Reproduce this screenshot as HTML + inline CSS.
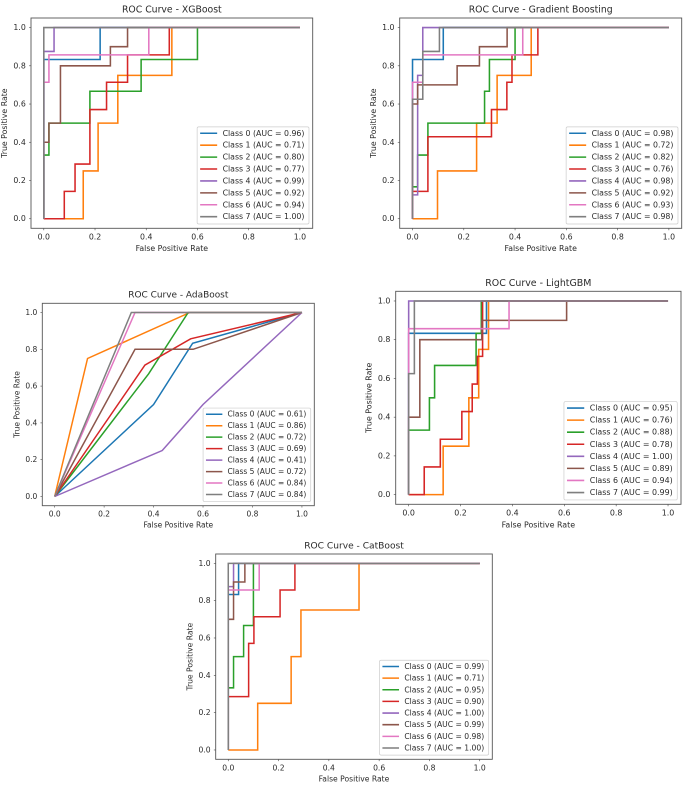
<!DOCTYPE html>
<html lang="en">
<head>
<meta charset="utf-8">
<title>ROC Curves</title>
<style>
html,body{margin:0;padding:0;background:#fff;width:685px;height:786px;overflow:hidden}
svg{display:block}
text{font-family:"DejaVu Sans","Liberation Sans",sans-serif;fill:#2a2a2a}
</style>
</head>
<body>
<svg id="figure" width="685" height="786" viewBox="0 0 685 786" xmlns="http://www.w3.org/2000/svg">
  <defs><filter id="soft" x="-2%" y="-2%" width="104%" height="104%"><feGaussianBlur stdDeviation="0.32"/></filter></defs>
  <rect width="685" height="786" fill="#fff"/>
  <g id="root" filter="url(#soft)"></g>
</svg>
<script>
const tickLabels = ["0.0", "0.2", "0.4", "0.6", "0.8", "1.0"];
const seriesColors = ["#1f77b4", "#ff7f0e", "#2ca02c", "#d62728", "#9467bd", "#8c564b", "#e377c2", "#7f7f7f"];
const xAxisTitle = "False Positive Rate";
const yAxisTitle = "True Positive Rate";

/* XGBoost */
const xgbFpr = [
  [0, 0, 0.22, 0.22, 1],
  [0, 0.154, 0.154, 0.212, 0.212, 0.289, 0.289, 0.5, 0.5, 1],
  [0, 0, 0.02, 0.02, 0.18, 0.18, 0.38, 0.38, 0.6, 0.6, 1],
  [0, 0.08, 0.08, 0.122, 0.122, 0.18, 0.18, 0.245, 0.245, 0.327, 0.327, 0.49, 0.49, 1],
  [0, 0, 0.04, 0.04, 1],
  [0, 0, 0.02, 0.02, 0.065, 0.065, 0.26, 0.26, 0.327, 0.327, 1],
  [0, 0, 0.02, 0.02, 0.41, 0.41, 1],
  [0, 0, 1]
];
const xgbTpr = [
  [0, 0.833, 0.833, 1, 1],
  [0, 0, 0.25, 0.25, 0.5, 0.5, 0.75, 0.75, 1, 1],
  [0, 0.333, 0.333, 0.5, 0.5, 0.667, 0.667, 0.833, 0.833, 1, 1],
  [0, 0, 0.143, 0.143, 0.286, 0.286, 0.571, 0.571, 0.714, 0.714, 0.857, 0.857, 1, 1],
  [0, 0.875, 0.875, 1, 1],
  [0, 0.4, 0.4, 0.5, 0.5, 0.8, 0.8, 0.9, 0.9, 1, 1],
  [0, 0.714, 0.714, 0.857, 0.857, 1, 1],
  [0, 1, 1]
];
const xgbLegend = ["Class 0 (AUC = 0.96)", "Class 1 (AUC = 0.71)", "Class 2 (AUC = 0.80)", "Class 3 (AUC = 0.77)", "Class 4 (AUC = 0.99)", "Class 5 (AUC = 0.92)", "Class 6 (AUC = 0.94)", "Class 7 (AUC = 1.00)"];

/* Gradient Boosting */
const gbFpr = [
  [0, 0, 0.12, 0.12, 1],
  [0, 0.0975, 0.0975, 0.25, 0.25, 0.33, 0.33, 0.463, 0.463, 1],
  [0, 0, 0.02, 0.02, 0.06, 0.06, 0.281, 0.281, 0.3, 0.3, 0.4, 0.4, 1],
  [0, 0, 0.06, 0.06, 0.308, 0.308, 0.368, 0.368, 0.388, 0.388, 0.489, 0.489, 1],
  [0, 0, 0.02, 0.02, 0.04, 0.04, 1],
  [0, 0, 0.02, 0.02, 0.174, 0.174, 0.261, 0.261, 0.369, 0.369, 1],
  [0, 0, 0.04, 0.04, 0.43, 0.43, 1],
  [0, 0, 0.04, 0.04, 0.105, 0.105, 1]
];
const gbTpr = [
  [0, 0.833, 0.833, 1, 1],
  [0, 0, 0.25, 0.25, 0.5, 0.5, 0.75, 0.75, 1, 1],
  [0, 0.167, 0.167, 0.333, 0.333, 0.5, 0.5, 0.667, 0.667, 0.833, 0.833, 1, 1],
  [0, 0.143, 0.143, 0.429, 0.429, 0.571, 0.571, 0.714, 0.714, 0.857, 0.857, 1, 1],
  [0, 0.125, 0.125, 0.75, 0.75, 1, 1],
  [0, 0.6, 0.6, 0.7, 0.7, 0.8, 0.8, 0.9, 0.9, 1, 1],
  [0, 0.714, 0.714, 0.857, 0.857, 1, 1],
  [0, 0.625, 0.625, 0.875, 0.875, 1, 1]
];
const gbLegend = ["Class 0 (AUC = 0.98)", "Class 1 (AUC = 0.72)", "Class 2 (AUC = 0.82)", "Class 3 (AUC = 0.76)", "Class 4 (AUC = 0.98)", "Class 5 (AUC = 0.92)", "Class 6 (AUC = 0.93)", "Class 7 (AUC = 0.98)"];

/* AdaBoost */
const adaFpr = [
  [0, 0.4, 0.558, 1],
  [0, 0.133, 0.547, 1],
  [0, 0.38, 0.54, 1],
  [0, 0.365, 0.55, 1],
  [0, 0.435, 0.6, 1],
  [0, 0.325, 0.56, 1],
  [0, 0.325, 1],
  [0, 0.31, 1]
];
const adaTpr = [
  [0, 0.5, 0.833, 1],
  [0, 0.75, 1, 1],
  [0, 0.667, 1, 1],
  [0, 0.714, 0.857, 1],
  [0, 0.25, 0.5, 1],
  [0, 0.8, 0.8, 1],
  [0, 1, 1],
  [0, 1, 1]
];
const adaLegend = ["Class 0 (AUC = 0.61)", "Class 1 (AUC = 0.86)", "Class 2 (AUC = 0.72)", "Class 3 (AUC = 0.69)", "Class 4 (AUC = 0.41)", "Class 5 (AUC = 0.72)", "Class 6 (AUC = 0.84)", "Class 7 (AUC = 0.84)"];

/* LightGBM */
const lgbFpr = [
  [0, 0, 0.3, 0.3, 1],
  [0, 0.133, 0.133, 0.232, 0.232, 0.27, 0.27, 0.308, 0.308, 1],
  [0, 0, 0.08, 0.08, 0.1, 0.1, 0.26, 0.26, 0.28, 0.28, 1],
  [0, 0.06, 0.06, 0.122, 0.122, 0.205, 0.205, 0.245, 0.245, 0.265, 0.265, 0.285, 0.285, 1],
  [0, 0, 1],
  [0, 0, 0.043, 0.043, 0.282, 0.282, 0.609, 0.609, 1],
  [0, 0, 0.387, 0.387, 1],
  [0, 0, 0.022, 0.022, 1]
];
const lgbTpr = [
  [0, 0.833, 0.833, 1, 1],
  [0, 0, 0.25, 0.25, 0.5, 0.5, 0.75, 0.75, 1, 1],
  [0, 0.333, 0.333, 0.5, 0.5, 0.667, 0.667, 0.833, 0.833, 1, 1],
  [0, 0, 0.143, 0.143, 0.286, 0.286, 0.429, 0.429, 0.571, 0.571, 0.714, 0.714, 1, 1],
  [0, 1, 1],
  [0, 0.4, 0.4, 0.8, 0.8, 0.9, 0.9, 1, 1],
  [0, 0.857, 0.857, 1, 1],
  [0, 0.625, 0.625, 1, 1]
];
const lgbLegend = ["Class 0 (AUC = 0.95)", "Class 1 (AUC = 0.76)", "Class 2 (AUC = 0.88)", "Class 3 (AUC = 0.78)", "Class 4 (AUC = 1.00)", "Class 5 (AUC = 0.89)", "Class 6 (AUC = 0.94)", "Class 7 (AUC = 0.99)"];

/* CatBoost */
const catFpr = [
  [0, 0, 0.041, 0.041, 1],
  [0, 0.117, 0.117, 0.25, 0.25, 0.289, 0.289, 0.52, 0.52, 1],
  [0, 0, 0.021, 0.021, 0.061, 0.061, 0.1, 0.1, 1],
  [0, 0, 0.081, 0.081, 0.102, 0.102, 0.206, 0.206, 0.265, 0.265, 1],
  [0, 0, 0.021, 0.021, 1],
  [0, 0, 0.021, 0.021, 0.066, 0.066, 1],
  [0, 0, 0.123, 0.123, 1],
  [0, 0, 1]
];
const catTpr = [
  [0, 0.833, 0.833, 1, 1],
  [0, 0, 0.25, 0.25, 0.5, 0.5, 0.75, 0.75, 1, 1],
  [0, 0.333, 0.333, 0.5, 0.5, 0.667, 0.667, 1, 1],
  [0, 0.286, 0.286, 0.571, 0.571, 0.714, 0.714, 0.857, 0.857, 1, 1],
  [0, 0.875, 0.875, 1, 1],
  [0, 0.7, 0.7, 0.9, 0.9, 1, 1],
  [0, 0.857, 0.857, 1, 1],
  [0, 1, 1]
];
const catLegend = ["Class 0 (AUC = 0.99)", "Class 1 (AUC = 0.71)", "Class 2 (AUC = 0.95)", "Class 3 (AUC = 0.90)", "Class 4 (AUC = 1.00)", "Class 5 (AUC = 0.99)", "Class 6 (AUC = 0.98)", "Class 7 (AUC = 1.00)"];

const SVG_NS = "http://www.w3.org/2000/svg";
const root = document.getElementById("root");

function make(tag, attrs, parent, content) {
  const el = document.createElementNS(SVG_NS, tag);
  for (const k in attrs) el.setAttribute(k, attrs[k]);
  if (content !== undefined) el.textContent = content;
  parent.appendChild(el);
  return el;
}

function drawPanel(title, fprs, tprs, legend, box, panelName) {
  const w = box.right - box.left, h = box.bottom - box.top;
  const s = h / 210;
  const mx = w / 22, my = h / 22;
  const xScale = v => box.left + mx + v * (w - 2 * mx);
  const yScale = v => box.bottom - my - v * (h - 2 * my);
  const font = 7.8 * s;
  const lineWidth = 1.55 * s;

  const g = make("g", {}, root);
  
  

  const titleEl = make("text", {x: (box.left + box.right) / 2, y: box.top - 7.9 * s, "text-anchor": "middle", "dominant-baseline": "central", "font-size": 9.3 * s}, g, title);
  
  

  const xTitle = make("text", {x: (box.left + box.right) / 2, y: box.bottom + 20.2 * s, "text-anchor": "middle", "dominant-baseline": "central", "font-size": font}, g, xAxisTitle);
  
  

  const yCx = box.left - 26.3 * s, yCy = (box.top + box.bottom) / 2;
  const yTitle = make("text", {x: yCx, y: yCy, transform: `rotate(-90 ${yCx} ${yCy})`, "text-anchor": "middle", "dominant-baseline": "central", "font-size": font}, g, yAxisTitle);
  
  

  tickLabels.forEach(label => {
    const v = parseFloat(label);
    const xTick = make("line", {x1: xScale(v), x2: xScale(v), y1: box.bottom, y2: box.bottom + 1.9 * s, stroke: "#444", "stroke-width": 0.6}, g);
    
    
    const xLabel = make("text", {x: xScale(v), y: box.bottom + 8.7 * s, "text-anchor": "middle", "dominant-baseline": "central", "font-size": font}, g, label);
    
    
    const yTick = make("line", {x1: box.left - 1.9 * s, x2: box.left, y1: yScale(v), y2: yScale(v), stroke: "#444", "stroke-width": 0.6}, g);
    
    
    const yLabel = make("text", {x: box.left - 5.2 * s, y: yScale(v), "text-anchor": "end", "dominant-baseline": "central", "font-size": font}, g, label);
    
    
  });

  fprs.forEach((xs, i) => {
    const pts = xs.map((x, j) => xScale(x).toFixed(2) + "," + yScale(tprs[i][j]).toFixed(2)).join(" ");
    const line = make("polyline", {points: pts, fill: "none", stroke: seriesColors[i], "stroke-width": lineWidth, "stroke-linejoin": "miter"}, g);
    
    
  });

  const frame = make("rect", {x: box.left, y: box.top, width: w, height: h, fill: "none", stroke: "#555", "stroke-width": 0.9}, g);
  
  

  const lw = 111.7 * s, lh = 97 * s;
  const lx = box.right - 3.7 * s - lw, ly = box.bottom - 4.3 * s - lh;
  const legendGroup = make("g", {}, g);
  
  
  const legendBox = make("rect", {x: lx, y: ly, width: lw, height: lh, rx: 1.6 * s, fill: "#fff", "fill-opacity": 0.85, stroke: "#ccc", "stroke-width": 0.7}, legendGroup);
  
  
  legend.forEach((label, i) => {
    const ey = ly + 6.4 * s + i * 11.9 * s;
    const swatch = make("line", {x1: lx + 3 * s, x2: lx + 20 * s, y1: ey, y2: ey, stroke: seriesColors[i], "stroke-width": lineWidth}, legendGroup);
    
    
    const entry = make("text", {x: lx + 25.4 * s, y: ey, "dominant-baseline": "central", "font-size": font}, legendGroup, label);
    
    
  });
}

drawPanel("ROC Curve - XGBoost", xgbFpr, xgbTpr, xgbLegend, {left: 31, right: 312.7, top: 18, bottom: 228.3}, "xgboost-panel");
drawPanel("ROC Curve - Gradient Boosting", gbFpr, gbTpr, gbLegend, {left: 399.7, right: 681.7, top: 18, bottom: 228.3}, "gradient-boosting-panel");
drawPanel("ROC Curve - AdaBoost", adaFpr, adaTpr, adaLegend, {left: 42.3, right: 314.3, top: 303.3, bottom: 505.7}, "adaboost-panel");
drawPanel("ROC Curve - LightGBM", lgbFpr, lgbTpr, lgbLegend, {left: 395.7, right: 681, top: 291.3, bottom: 504.3}, "lightgbm-panel");
drawPanel("ROC Curve - CatBoost", catFpr, catTpr, catLegend, {left: 215.7, right: 492.3, top: 554, bottom: 759.3}, "catboost-panel");
</script>
</body>
</html>
